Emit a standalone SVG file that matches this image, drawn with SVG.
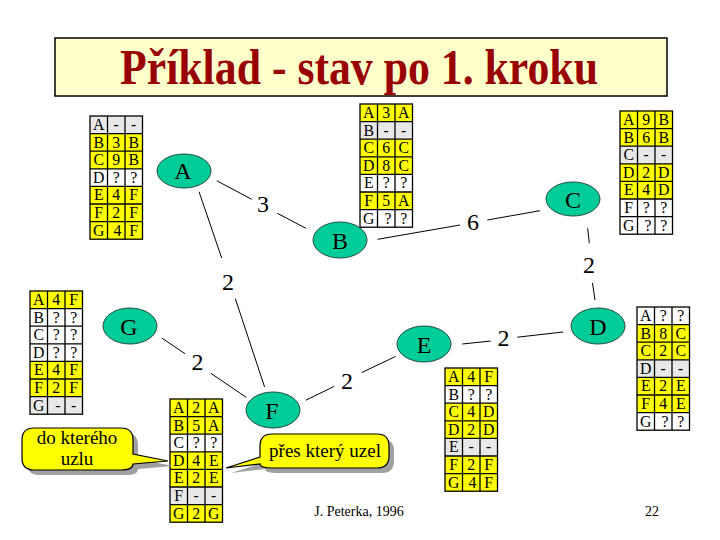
<svg xmlns="http://www.w3.org/2000/svg" xmlns:xlink="http://www.w3.org/1999/xlink" width="720" height="540" viewBox="0 0 720 540">
<style>
text{font-family:"Liberation Serif","Times New Roman",serif;fill:#000}
.y{fill:#ffff00}.w{fill:#ffffff}.g{fill:#e8e8e8}
.cell{font-family:"Liberation Serif",serif;font-size:15.8px;text-anchor:middle}
.node ellipse{fill:#00cc99;stroke:#2a4a40;stroke-width:1}
.node text{font-family:"Liberation Serif",serif;font-size:24px;text-anchor:middle}
.edge line{stroke:#000;stroke-width:1}
.elabel{font-family:"Liberation Serif",serif;font-size:24px;text-anchor:middle}
.call{fill:#ffff00;stroke:#000;stroke-width:1.2}
.shadow{fill:#a0a0a0}
.ctext{font-family:"Liberation Serif",serif;font-size:19px;text-anchor:middle}
</style>
<defs>
<g id="grid" fill="none" stroke="#000" stroke-width="1.3">
<rect x="0" y="0" width="52.5" height="123.2"/>
<line x1="17.5" y1="0" x2="17.5" y2="123.2"/>
<line x1="35" y1="0" x2="35" y2="123.2"/>
<line x1="0" y1="17.6" x2="52.5" y2="17.6"/>
<line x1="0" y1="35.2" x2="52.5" y2="35.2"/>
<line x1="0" y1="52.8" x2="52.5" y2="52.8"/>
<line x1="0" y1="70.4" x2="52.5" y2="70.4"/>
<line x1="0" y1="88" x2="52.5" y2="88"/>
<line x1="0" y1="105.6" x2="52.5" y2="105.6"/>
</g>
</defs>
<rect width="720" height="540" fill="#fff"/>
<g id="title">
<rect x="55" y="38" width="612" height="58" fill="#ffffcc" stroke="#000" stroke-width="1.5"/>
<text x="359" y="84" font-size="50" font-weight="bold" text-anchor="middle" style="fill:#990000" textLength="478" lengthAdjust="spacingAndGlyphs">Příklad - stav po 1. kroku</text>
</g>
<g id="connectors" class="edge">
<line x1="216.7" y1="180.7" x2="251.7" y2="199.3"/>
<line x1="277.3" y1="213.3" x2="306" y2="228.3"/>
<text class="elabel" x="263" y="212">3</text>
<line x1="377.7" y1="239.3" x2="460" y2="225"/>
<line x1="487.3" y1="220" x2="540" y2="210.7"/>
<text class="elabel" x="473" y="230">6</text>
<line x1="587.7" y1="228.3" x2="589.3" y2="243.3"/>
<line x1="592.5" y1="283" x2="595" y2="300"/>
<text class="elabel" x="589" y="273">2</text>
<line x1="199" y1="191.7" x2="221.7" y2="258"/>
<line x1="235.3" y1="298.6" x2="264.6" y2="387"/>
<text class="elabel" x="228" y="290">2</text>
<line x1="162" y1="338.2" x2="185" y2="353.7"/>
<line x1="210.9" y1="373.3" x2="246.3" y2="397.4"/>
<text class="elabel" x="197.5" y="370">2</text>
<line x1="305.9" y1="400.2" x2="334.2" y2="386.4"/>
<line x1="361.7" y1="372.6" x2="395.5" y2="356.5"/>
<text class="elabel" x="347" y="388.5">2</text>
<line x1="462.3" y1="344" x2="490.8" y2="341"/>
<line x1="517.4" y1="337.2" x2="563.2" y2="332"/>
<text class="elabel" x="503.6" y="345.5">2</text>
</g>
<g id="node-A" class="node"><ellipse cx="184" cy="171" rx="27" ry="17"/><text x="183" y="179">A</text></g>
<g id="node-B" class="node"><ellipse cx="340" cy="240" rx="27" ry="18"/><text x="340" y="248.5">B</text></g>
<g id="node-C" class="node"><ellipse cx="573" cy="199" rx="27" ry="17"/><text x="573" y="207.5">C</text></g>
<g id="node-D" class="node"><ellipse cx="598" cy="326" rx="27" ry="18"/><text x="598" y="334.5">D</text></g>
<g id="node-E" class="node"><ellipse cx="424" cy="344" rx="27" ry="18"/><text x="424" y="352.5">E</text></g>
<g id="node-F" class="node"><ellipse cx="273" cy="410" rx="27" ry="18"/><text x="272" y="418.5">F</text></g>
<g id="node-G" class="node"><ellipse cx="130" cy="326" rx="27" ry="18"/><text x="129" y="334.5">G</text></g>

<g id="table-A" transform="translate(90,116)">
<rect class="g" x="0" y="0" width="52.5" height="17.6"/>
<rect class="y" x="0" y="17.6" width="52.5" height="35.2"/>
<rect class="w" x="0" y="52.8" width="52.5" height="17.6"/>
<rect class="y" x="0" y="70.4" width="52.5" height="52.8"/>
<use xlink:href="#grid" href="#grid"/>
<text class="cell" y="14"><tspan x="8.75">A</tspan><tspan x="26.25">-</tspan><tspan x="43.75">-</tspan></text>
<text class="cell" y="31.6"><tspan x="8.75">B</tspan><tspan x="26.25">3</tspan><tspan x="43.75">B</tspan></text>
<text class="cell" y="49.2"><tspan x="8.75">C</tspan><tspan x="26.25">9</tspan><tspan x="43.75">B</tspan></text>
<text class="cell" y="66.8"><tspan x="8.75">D</tspan><tspan x="26.25">?</tspan><tspan x="43.75">?</tspan></text>
<text class="cell" y="84.4"><tspan x="8.75">E</tspan><tspan x="26.25">4</tspan><tspan x="43.75">F</tspan></text>
<text class="cell" y="102"><tspan x="8.75">F</tspan><tspan x="26.25">2</tspan><tspan x="43.75">F</tspan></text>
<text class="cell" y="119.6"><tspan x="8.75">G</tspan><tspan x="27.5">4</tspan><tspan x="43.75">F</tspan></text>
</g>

<g id="table-B" transform="translate(360,104)">
<rect class="y" x="0" y="0" width="52.5" height="17.6"/>
<rect class="g" x="0" y="17.6" width="52.5" height="17.6"/>
<rect class="y" x="0" y="35.2" width="52.5" height="35.2"/>
<rect class="w" x="0" y="70.4" width="52.5" height="17.6"/>
<rect class="y" x="0" y="88" width="52.5" height="17.6"/>
<rect class="w" x="0" y="105.6" width="52.5" height="17.6"/>
<use xlink:href="#grid" href="#grid"/>
<text class="cell" y="14"><tspan x="8.75">A</tspan><tspan x="26.25">3</tspan><tspan x="43.75">A</tspan></text>
<text class="cell" y="31.6"><tspan x="8.75">B</tspan><tspan x="26.25">-</tspan><tspan x="43.75">-</tspan></text>
<text class="cell" y="49.2"><tspan x="8.75">C</tspan><tspan x="26.25">6</tspan><tspan x="43.75">C</tspan></text>
<text class="cell" y="66.8"><tspan x="8.75">D</tspan><tspan x="26.25">8</tspan><tspan x="43.75">C</tspan></text>
<text class="cell" y="84.4"><tspan x="8.75">E</tspan><tspan x="26.25">?</tspan><tspan x="43.75">?</tspan></text>
<text class="cell" y="102"><tspan x="8.75">F</tspan><tspan x="26.25">5</tspan><tspan x="43.75">A</tspan></text>
<text class="cell" y="119.6"><tspan x="8.75">G</tspan><tspan x="28">?</tspan><tspan x="43.75">?</tspan></text>
</g>

<g id="table-C" transform="translate(620,111)">
<rect class="y" x="0" y="0" width="52.5" height="35.2"/>
<rect class="g" x="0" y="35.2" width="52.5" height="17.6"/>
<rect class="y" x="0" y="52.8" width="52.5" height="35.2"/>
<rect class="w" x="0" y="88" width="52.5" height="35.2"/>
<use xlink:href="#grid" href="#grid"/>
<text class="cell" y="14"><tspan x="8.75">A</tspan><tspan x="26.25">9</tspan><tspan x="43.75">B</tspan></text>
<text class="cell" y="31.6"><tspan x="8.75">B</tspan><tspan x="26.25">6</tspan><tspan x="43.75">B</tspan></text>
<text class="cell" y="49.2"><tspan x="8.75">C</tspan><tspan x="26.25">-</tspan><tspan x="43.75">-</tspan></text>
<text class="cell" y="66.8"><tspan x="8.75">D</tspan><tspan x="26.25">2</tspan><tspan x="43.75">D</tspan></text>
<text class="cell" y="84.4"><tspan x="8.75">E</tspan><tspan x="26.25">4</tspan><tspan x="43.75">D</tspan></text>
<text class="cell" y="102"><tspan x="8.75">F</tspan><tspan x="26.25">?</tspan><tspan x="43.75">?</tspan></text>
<text class="cell" y="119.6"><tspan x="8.75">G</tspan><tspan x="28">?</tspan><tspan x="43.75">?</tspan></text>
</g>

<g id="table-G" transform="translate(30,291)">
<rect class="y" x="0" y="0" width="52.5" height="17.6"/>
<rect class="w" x="0" y="17.6" width="52.5" height="52.8"/>
<rect class="y" x="0" y="70.4" width="52.5" height="35.2"/>
<rect class="g" x="0" y="105.6" width="52.5" height="17.6"/>
<use xlink:href="#grid" href="#grid"/>
<text class="cell" y="14"><tspan x="8.75">A</tspan><tspan x="26.25">4</tspan><tspan x="43.75">F</tspan></text>
<text class="cell" y="31.6"><tspan x="8.75">B</tspan><tspan x="26.25">?</tspan><tspan x="43.75">?</tspan></text>
<text class="cell" y="49.2"><tspan x="8.75">C</tspan><tspan x="26.25">?</tspan><tspan x="43.75">?</tspan></text>
<text class="cell" y="66.8"><tspan x="8.75">D</tspan><tspan x="26.25">?</tspan><tspan x="43.75">?</tspan></text>
<text class="cell" y="84.4"><tspan x="8.75">E</tspan><tspan x="26.25">4</tspan><tspan x="43.75">F</tspan></text>
<text class="cell" y="102"><tspan x="8.75">F</tspan><tspan x="26.25">2</tspan><tspan x="43.75">F</tspan></text>
<text class="cell" y="119.6"><tspan x="8.75">G</tspan><tspan x="28">-</tspan><tspan x="43.75">-</tspan></text>
</g>

<g id="table-F" transform="translate(170,399)">
<rect class="y" x="0" y="0" width="52.5" height="35.2"/>
<rect class="w" x="0" y="35.2" width="52.5" height="17.6"/>
<rect class="y" x="0" y="52.8" width="52.5" height="35.2"/>
<rect class="g" x="0" y="88" width="52.5" height="17.6"/>
<rect class="y" x="0" y="105.6" width="52.5" height="17.6"/>
<use xlink:href="#grid" href="#grid"/>
<text class="cell" y="14"><tspan x="8.75">A</tspan><tspan x="26.25">2</tspan><tspan x="43.75">A</tspan></text>
<text class="cell" y="31.6"><tspan x="8.75">B</tspan><tspan x="26.25">5</tspan><tspan x="43.75">A</tspan></text>
<text class="cell" y="49.2"><tspan x="8.75">C</tspan><tspan x="26.25">?</tspan><tspan x="43.75">?</tspan></text>
<text class="cell" y="66.8"><tspan x="8.75">D</tspan><tspan x="26.25">4</tspan><tspan x="43.75">E</tspan></text>
<text class="cell" y="84.4"><tspan x="8.75">E</tspan><tspan x="26.25">2</tspan><tspan x="43.75">E</tspan></text>
<text class="cell" y="102"><tspan x="8.75">F</tspan><tspan x="26.25">-</tspan><tspan x="43.75">-</tspan></text>
<text class="cell" y="119.6"><tspan x="8.75">G</tspan><tspan x="26.25">2</tspan><tspan x="43.75">G</tspan></text>
</g>

<g id="table-E" transform="translate(445,368)">
<rect class="y" x="0" y="0" width="52.5" height="17.6"/>
<rect class="w" x="0" y="17.6" width="52.5" height="17.6"/>
<rect class="y" x="0" y="35.2" width="52.5" height="35.2"/>
<rect class="g" x="0" y="70.4" width="52.5" height="17.6"/>
<rect class="y" x="0" y="88" width="52.5" height="35.2"/>
<use xlink:href="#grid" href="#grid"/>
<text class="cell" y="14"><tspan x="8.75">A</tspan><tspan x="26.25">4</tspan><tspan x="43.75">F</tspan></text>
<text class="cell" y="31.6"><tspan x="8.75">B</tspan><tspan x="26.25">?</tspan><tspan x="43.75">?</tspan></text>
<text class="cell" y="49.2"><tspan x="8.75">C</tspan><tspan x="26.25">4</tspan><tspan x="43.75">D</tspan></text>
<text class="cell" y="66.8"><tspan x="8.75">D</tspan><tspan x="26.25">2</tspan><tspan x="43.75">D</tspan></text>
<text class="cell" y="84.4"><tspan x="8.75">E</tspan><tspan x="26.25">-</tspan><tspan x="43.75">-</tspan></text>
<text class="cell" y="102"><tspan x="8.75">F</tspan><tspan x="26.25">2</tspan><tspan x="43.75">F</tspan></text>
<text class="cell" y="119.6"><tspan x="8.75">G</tspan><tspan x="27.5">4</tspan><tspan x="43.75">F</tspan></text>
</g>

<g id="table-D" transform="translate(637,307)">
<rect class="w" x="0" y="0" width="52.5" height="17.6"/>
<rect class="y" x="0" y="17.6" width="52.5" height="35.2"/>
<rect class="g" x="0" y="52.8" width="52.5" height="17.6"/>
<rect class="y" x="0" y="70.4" width="52.5" height="35.2"/>
<rect class="w" x="0" y="105.6" width="52.5" height="17.6"/>
<use xlink:href="#grid" href="#grid"/>
<text class="cell" y="14"><tspan x="8.75">A</tspan><tspan x="26.25">?</tspan><tspan x="43.75">?</tspan></text>
<text class="cell" y="31.6"><tspan x="8.75">B</tspan><tspan x="26.25">8</tspan><tspan x="43.75">C</tspan></text>
<text class="cell" y="49.2"><tspan x="8.75">C</tspan><tspan x="26.25">2</tspan><tspan x="43.75">C</tspan></text>
<text class="cell" y="66.8"><tspan x="8.75">D</tspan><tspan x="26.25">-</tspan><tspan x="43.75">-</tspan></text>
<text class="cell" y="84.4"><tspan x="8.75">E</tspan><tspan x="26.25">2</tspan><tspan x="43.75">E</tspan></text>
<text class="cell" y="102"><tspan x="8.75">F</tspan><tspan x="26.25">4</tspan><tspan x="43.75">E</tspan></text>
<text class="cell" y="119.6"><tspan x="8.75">G</tspan><tspan x="28">?</tspan><tspan x="43.75">?</tspan></text>
</g>

<g id="callout-do">
<path class="shadow" transform="translate(5,5)" d="M34,428 H121 Q133,428 133,440 V454 L168,461 L133,464 Q133,470 121,470 H34 Q22,470 22,458 V440 Q22,428 34,428 Z"/>
<path class="call" d="M34,428 H121 Q133,428 133,440 V454 L168,461 L133,464 Q133,470 121,470 H34 Q22,470 22,458 V440 Q22,428 34,428 Z"/>
<text class="ctext" x="77" y="444">do kterého</text>
<text class="ctext" x="77" y="465">uzlu</text>
</g>
<g id="callout-pres">
<path class="shadow" transform="translate(5,5)" d="M272,434 H377 Q389,434 389,446 V456 Q389,468 377,468 H272 Q260,468 260,464 L226,468 L260,457 V446 Q260,434 272,434 Z"/>
<path class="call" d="M272,434 H377 Q389,434 389,446 V456 Q389,468 377,468 H272 Q260,468 260,464 L226,468 L260,457 V446 Q260,434 272,434 Z"/>
<text class="ctext" x="325" y="457">přes který uzel</text>
</g>
<g id="footer">
<text x="359" y="516" font-size="14" text-anchor="middle">J. Peterka, 1996</text>
<text x="652" y="516" font-size="14" text-anchor="middle">22</text>
</g>
</svg>
